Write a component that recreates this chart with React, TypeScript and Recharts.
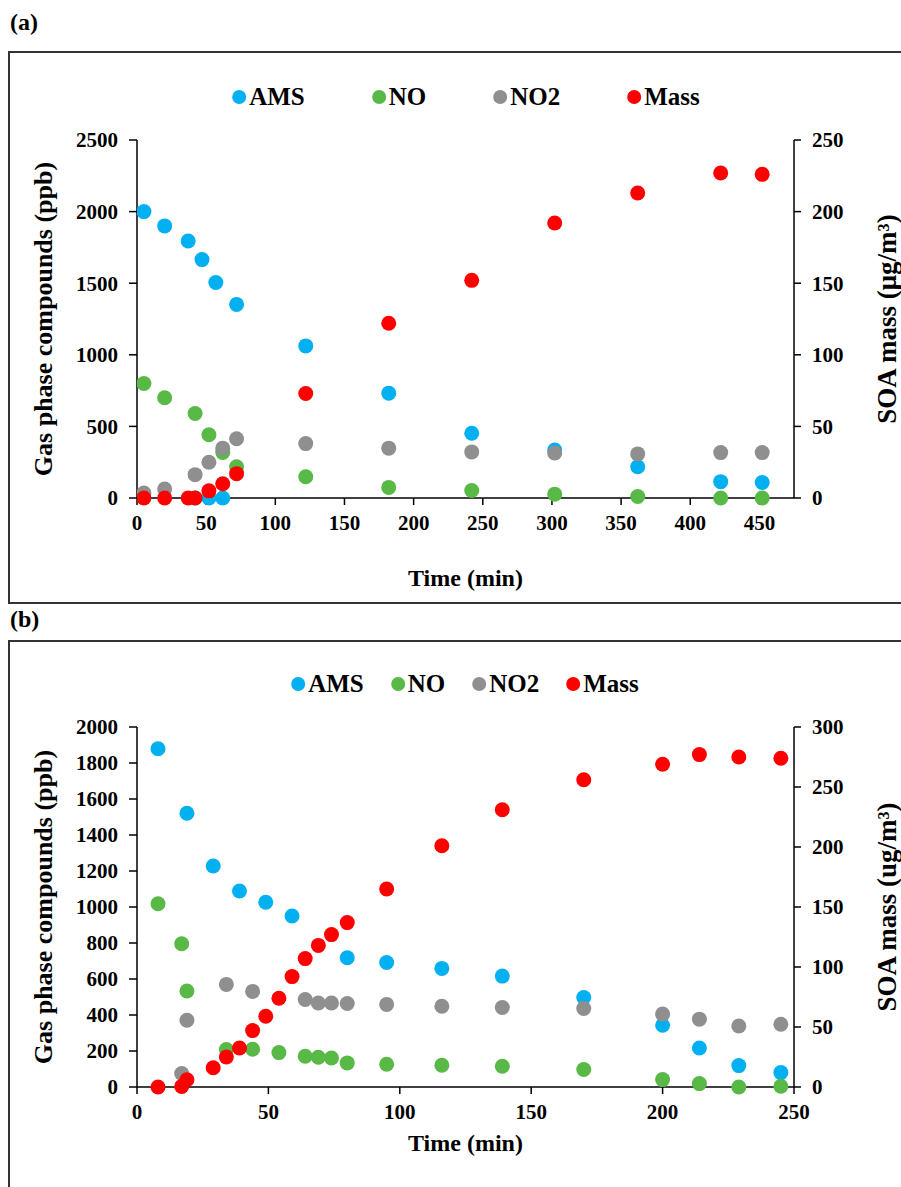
import { Scatter, ScatterChart, XAxis, YAxis } from "recharts";

const FONT = '"Liberation Serif", "Times New Roman", serif';

const SERIES_NAMES = ["AMS", "NO", "NO2", "Mass"];
const SERIES_COLORS = ["#00B0F0", "#58B947", "#8F8F8F", "#FF0000"];

// ---- panel (a) ----
const amsTimeA = [5, 20, 37, 42, 47, 52, 57, 62, 72, 122, 182, 242, 302, 362, 422, 452];
const amsA = [2000, 1900, 1795, 0, 1665, 0, 1505, 0, 1352, 1062, 732, 452, 335, 218, 114, 108];
const noTimeA = [5, 20, 42, 52, 62, 72, 122, 182, 242, 302, 362, 422, 452];
const noA = [800, 700, 590, 442, 318, 218, 148, 74, 52, 27, 10, 0, 0];
const no2TimeA = [5, 20, 42, 52, 62, 72, 122, 182, 242, 302, 362, 422, 452];
const no2A = [35, 62, 163, 250, 348, 414, 380, 348, 322, 314, 308, 317, 317];
const massTimeA = [5, 20, 37, 42, 52, 62, 72, 122, 182, 242, 302, 362, 422, 452];
const massA = [0, 0, 0, 0, 5, 10, 17, 73, 122, 152, 192, 213, 227, 226];

const xTicksA = [0, 50, 100, 150, 200, 250, 300, 350, 400, 450];
const leftTicksA = [0, 500, 1000, 1500, 2000, 2500];
const rightTicksA = [0, 50, 100, 150, 200, 250];

// ---- panel (b) ----
const amsTimeB = [8, 19, 29, 39, 49, 59, 80, 95, 116, 139, 170, 200, 214, 229, 245];
const amsB = [1879, 1521, 1228, 1089, 1026, 950, 718, 692, 659, 616, 497, 343, 217, 119, 80];
const noTimeB = [8, 17, 19, 34, 44, 54, 64, 69, 74, 80, 95, 116, 139, 170, 200, 214, 229, 245];
const noB = [1018, 796, 533, 208, 210, 191, 171, 165, 161, 134, 126, 121, 115, 97, 41, 19, 0, 4];
const no2TimeB = [17, 19, 34, 44, 64, 69, 74, 80, 95, 116, 139, 170, 200, 214, 229, 245];
const no2B = [75, 371, 570, 531, 486, 467, 467, 464, 459, 449, 442, 436, 405, 377, 339, 349];
const massTimeB = [8, 17, 19, 29, 34, 39, 44, 49, 54, 59, 64, 69, 74, 80, 95, 116, 139, 170, 200, 214, 229, 245];
const massB = [0, 0.5, 6, 16, 25, 32.5, 47, 59, 74, 92, 107, 118, 127, 137, 165, 201, 231, 256, 269, 277, 275, 274];

const xTicksB = [0, 50, 100, 150, 200, 250];
const leftTicksB = [0, 200, 400, 600, 800, 1000, 1200, 1400, 1600, 1800, 2000];
const rightTicksB = [0, 50, 100, 150, 200, 250, 300];

function toPoints(t: number[], v: number[]) {
  return t.map((x, i) => ({ t: x, v: v[i] }));
}

const tickStyle = { fill: "#000", fontSize: 21, fontWeight: "bold", fontFamily: FONT };
const titleProps = { fill: "#000", fontWeight: "bold", fontFamily: FONT };
const axisLine = { stroke: "#000", strokeWidth: 1.5 };

const dot = (color: string) => (p: any) => <circle cx={p.cx} cy={p.cy} r={7.5} fill={color} />;

function LegendRow({ left, top, gap }: { left: number; top: number; gap: number }) {
  return (
    <div
      style={{
        position: "absolute",
        left,
        top,
        transform: "translateX(-50%)",
        display: "flex",
        gap,
        fontFamily: FONT,
        fontWeight: "bold",
        fontSize: 25,
        whiteSpace: "nowrap",
      }}
    >
      {SERIES_NAMES.map((name, i) => (
        <div key={name} style={{ display: "flex", alignItems: "center" }}>
          <span
            style={{
              width: 14,
              height: 14,
              borderRadius: 7,
              background: SERIES_COLORS[i],
              marginRight: 3,
              display: "inline-block",
            }}
          />
          {name}
        </div>
      ))}
    </div>
  );
}

type PanelProps = {
  top: number;
  height: number;
  margin: { top: number; right: number; bottom: number; left: number };
  xMax: number;
  xTicks: number[];
  leftMax: number;
  leftTicks: number[];
  rightMax: number;
  rightTicks: number[];
  data: { t: number; v: number }[][];
  rightTitle: string;
  xTitleDy: number;
};

function Panel(props: PanelProps) {
  const { top, height, margin, data } = props;
  return (
    <div style={{ position: "absolute", left: 0, top, width: 901, height }}>
      <ScatterChart width={901} height={height} margin={margin}>
        <XAxis
          type="number"
          dataKey="t"
          domain={[0, props.xMax]}
          ticks={props.xTicks}
          allowDataOverflow
          height={30}
          tick={tickStyle}
          tickSize={7}
          tickMargin={10}
          axisLine={axisLine}
          tickLine={axisLine}
          label={{ value: "Time (min)", position: "center", dy: props.xTitleDy, fontSize: 24, ...titleProps }}
        />
        <YAxis
          yAxisId="left"
          type="number"
          dataKey="v"
          domain={[0, props.leftMax]}
          ticks={props.leftTicks}
          width={60}
          tick={tickStyle}
          tickSize={8}
          tickMargin={11}
          axisLine={axisLine}
          tickLine={axisLine}
          label={{ value: "Gas phase compounds (ppb)", angle: -90, position: "center", dx: -64, fontSize: 26, ...titleProps }}
        />
        <YAxis
          yAxisId="right"
          orientation="right"
          type="number"
          dataKey="v"
          domain={[0, props.rightMax]}
          ticks={props.rightTicks}
          width={60}
          tick={{ ...tickStyle, textAnchor: "start" }}
          tickSize={7}
          tickMargin={11}
          axisLine={axisLine}
          tickLine={axisLine}
          label={{ value: props.rightTitle, angle: -90, position: "center", dx: 62, fontSize: 27, ...titleProps }}
        />
        {data.map((d, i) => (
          <Scatter
            key={SERIES_NAMES[i]}
            name={SERIES_NAMES[i]}
            data={d}
            yAxisId={i === 3 ? "right" : "left"}
            fill={SERIES_COLORS[i]}
            shape={dot(SERIES_COLORS[i])}
            isAnimationActive={false}
          />
        ))}
      </ScatterChart>
    </div>
  );
}

export default function App() {
  const frame = { position: "absolute" as const, left: 8, width: 1000, border: "2px solid #333", boxSizing: "border-box" as const };
  const panelLabel = { position: "absolute" as const, left: 10, fontFamily: FONT, fontWeight: "bold", fontSize: 24 };
  return (
    <div style={{ position: "absolute", left: 0, top: 0, width: 901, height: 1187, overflow: "hidden", background: "#fff" }}>
      <div style={{ ...panelLabel, top: 9 }}>(a)</div>
      <div style={{ ...frame, top: 51, height: 553 }} />
      <div style={{ ...panelLabel, top: 606 }}>(b)</div>
      <div style={{ ...frame, top: 640, height: 600 }} />
      <LegendRow left={466} top={83} gap={67} />
      <LegendRow left={465} top={670} gap={27} />
      <Panel
        top={0}
        height={600}
        margin={{ top: 140, right: 47, bottom: 72, left: 77 }}
        xMax={475}
        xTicks={xTicksA}
        leftMax={2500}
        leftTicks={leftTicksA}
        rightMax={250}
        rightTicks={rightTicksA}
        data={[toPoints(amsTimeA, amsA), toPoints(noTimeA, noA), toPoints(no2TimeA, no2A), toPoints(massTimeA, massA)]}
        rightTitle="SOA mass (μg/m³)"
        xTitleDy={64}
      />
      <Panel
        top={640}
        height={547}
        margin={{ top: 87, right: 47, bottom: 70, left: 77 }}
        xMax={250}
        xTicks={xTicksB}
        leftMax={2000}
        leftTicks={leftTicksB}
        rightMax={300}
        rightTicks={rightTicksB}
        data={[toPoints(amsTimeB, amsB), toPoints(noTimeB, noB), toPoints(no2TimeB, no2B), toPoints(massTimeB, massB)]}
        rightTitle="SOA mass (ug/m³)"
        xTitleDy={40}
      />
    </div>
  );
}
